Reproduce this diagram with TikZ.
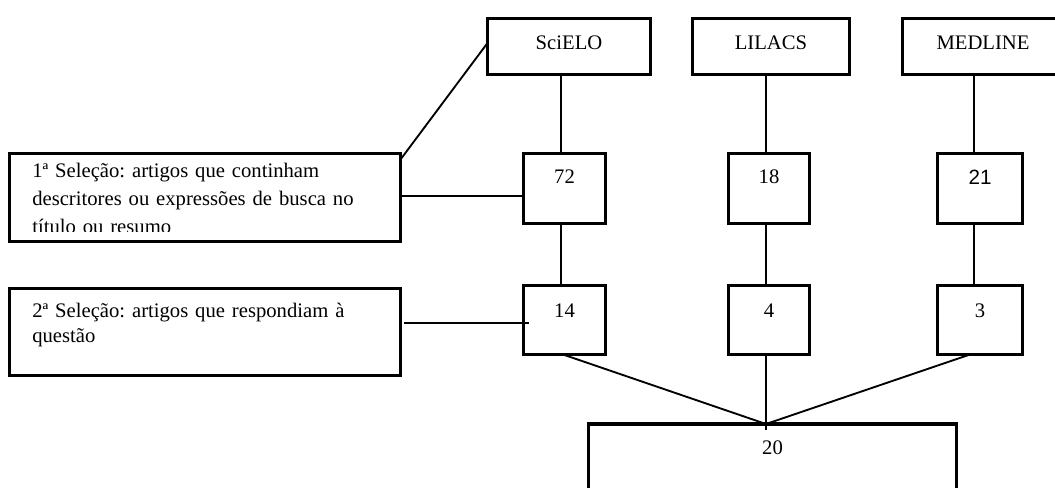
\documentclass[tikz,border=0pt]{standalone}
\usepackage{fontspec}
\setmainfont{Liberation Serif}
\newfontfamily\arialfont{Liberation Sans}
\usetikzlibrary{calc}
\frenchspacing
\begin{document}
\begin{tikzpicture}[x=0.75pt,y=-0.75pt,
  box/.style={draw, line width=2.8pt, rectangle, outer sep=0pt, inner sep=0pt},
  conn/.style={line width=1.4pt},
  lbl/.style={font=\fontsize{15.5pt}{21pt}\selectfont, inner sep=0pt},
  dbbox/.style={box, minimum width=#1*0.75pt, minimum height=56*0.75pt},
  numbox/.style={box, minimum width=#1*0.75pt, minimum height=70*0.75pt},
  selbox/.style={box, minimum width=391*0.75pt, minimum height=88*0.75pt},
  seltext/.style={lbl, anchor=north west, text width=300pt, align=left},
]
\path[use as bounding box] (0,0) rectangle (1055,488);
\clip (0,0) rectangle (1055,488);

% databases
\node[dbbox=163, label={[lbl,yshift=2.8pt]center:SciELO}] (scielo) at (569,46.5) {};
\node[dbbox=157, label={[lbl,yshift=2.8pt]center:LILACS}] (lilacs) at (771,46.5) {};
\node[dbbox=161, label={[lbl,yshift=2.8pt]center:MEDLINE}] (medline) at (983,46.5) {};

% first selection
\node[numbox=82, label={[lbl,yshift=8.6pt]center:72}] (n72) at (564.5,188.5) {};
\node[numbox=81, label={[lbl,yshift=8.6pt]center:18}] (n18) at (769,188.5) {};
\node[numbox=85, label={[lbl,font=\arialfont\fontsize{15.5pt}{21pt}\selectfont,yshift=8.6pt]center:21}] (n21) at (980,188.5) {};

% second selection
\node[numbox=82, minimum height=69*0.75pt, label={[lbl,yshift=7.1pt]center:14}] (n14) at (564.5,320) {};
\node[numbox=81, minimum height=69*0.75pt, label={[lbl,yshift=7.1pt]center:4}] (n4) at (769,320) {};
\node[numbox=85, minimum height=69*0.75pt, label={[lbl,yshift=7.1pt]center:3}] (n3) at (980,320) {};

% total
\node[box, minimum width=368*0.75pt, minimum height=100*0.75pt, label={[lbl,yshift=19.9pt]center:20}] (n20) at (772.5,474) {};

% selection descriptions
\node[selbox] (sel1) at (205,197.5) {};
\begin{scope}
  \clip (sel1.north west) rectangle (sel1.east |- 0,231);
  \node[seltext] (t1) at (32,157.4) {\strut 1ª Seleção: artigos que continham\\descritores ou expressões de busca no\\título ou resumo};
\end{scope}
\node[selbox, minimum height=87*0.75pt] (sel2) at (205,332) {};
\node[seltext, font=\fontsize{15.5pt}{19pt}\selectfont] (t2) at (32,299.3) {\strut 2ª Seleção: artigos que respondiam à\\questão};

% connectors
\draw[conn] (n72.north) ++(-3.5,0) coordinate (a1) -- (a1 |- scielo.south);
\draw[conn] (n18.north) ++(-3,0) coordinate (a2) -- (a2 |- lilacs.south);
\draw[conn] (n21.north) ++(-6,0) coordinate (a3) -- (a3 |- medline.south);
\draw[conn] (n72.south) ++(-3.5,0) coordinate (b1) -- (b1 |- n14.north);
\draw[conn] (n18.south) ++(-3,0) coordinate (b2) -- (b2 |- n4.north);
\draw[conn] (n21.south) ++(-6,0) coordinate (b3) -- (b3 |- n3.north);

\path (n20.north) ++(-6.5,0) coordinate (j);
\draw[conn] (n14.south) ++(-1.5,0) -- (j);
\draw[conn] (n4.south) ++(-3,0) -- ($(j)+(0,6)$);
\draw[conn] (n3.south) ++(-10,0) -- (j);

\draw[conn] (sel1.east) ++(0,-1.5) coordinate (c1) -- (c1 -| n72.west);
\draw[conn] (sel2.east) ++(3,-9) coordinate (c2) -- ($(c2 -| n14.west)+(5,0)$);
\draw[conn] (scielo.west) ++(0,-3.5) -- ($(sel1.north east)+(0,6)$);
\end{tikzpicture}
\end{document}
